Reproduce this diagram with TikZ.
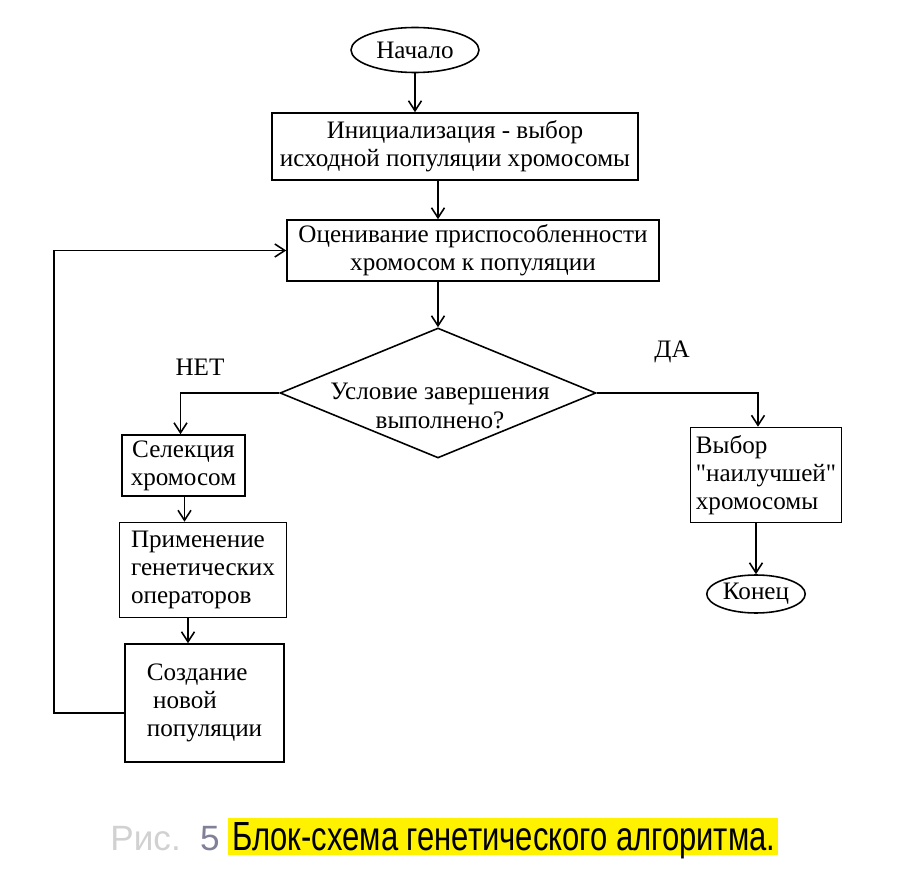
\documentclass[tikz,border=0pt]{standalone}
\usepackage{fontspec}
\setmainfont{Liberation Serif}[Ligatures=TeXOff]
\setsansfont{Liberation Sans}
\usetikzlibrary{shapes.geometric,calc,arrows.meta}

\tikzset{
  >={Straight Barb[length=2mm,width=2.6mm]},
  line/.style={line width=0.9pt},
  blockbox/.style={draw, line width=0.9pt, inner sep=2pt, align=center},
  term/.style={ellipse, draw, line width=0.9pt, inner sep=1pt},
  cond/.style={diamond, draw, line width=0.9pt, inner sep=0pt},
}

\begin{document}
\begin{tikzpicture}[x=0.02cm,y=-0.02cm,font=\fontsize{14.3}{16}\selectfont]
  \useasboundingbox (0,0) rectangle (920,878);

  % blocks
  \node[term, minimum width=2.56cm, minimum height=0.9cm] (start) at (415,50) {Начало};
  \node[blockbox, minimum width=7.32cm, minimum height=1.34cm] (init) at (455,146.5)
       {Инициализация - выбор\\исходной популяции хромосомы};
  \node[blockbox, minimum width=7.44cm, minimum height=1.22cm] (eval) at (473,250.5)
       {Оценивание приспособленности\\хромосом к популяции};
  \node[cond, minimum width=6.32cm, minimum height=2.6cm] (dec) at (438,393) {};
  \node[align=center] (dectext) at (440,406) {Условие завершения\\выполнено?};

  \node (no) at (200,367) {НЕТ};
  \node (yes) at (672,352) {ДА};

  \node[blockbox, minimum width=2.46cm, minimum height=1.22cm] (sel) at (183.5,465.5)
       {Селекция\\хромосом};
  \node[blockbox, align=left, minimum width=3.34cm, minimum height=1.9cm] (appl) at (203,570)
       {Применение\\генетических\\операторов};
  \node[blockbox, align=left, minimum width=3.18cm, minimum height=2.36cm] (newpop) at (204.5,703)
       {Создание\\\ новой\\популяции};

  \node[blockbox, align=left, minimum width=3.02cm, minimum height=1.9cm] (best) at (766,475)
       {Выбор\\"наилучшей"\\хромосомы};
  \node[term, minimum width=1.88cm, minimum height=0.76cm] (stop) at (756,594) {Конец};

  % connectors
  \draw[line,->] (start) -- (start |- init.north);
  \draw[line,->] (dec.north |- init.south) -- (dec.north |- eval.north);
  \draw[line,->] (eval.south -| dec.north) -- (dec.north);
  \draw[line,->] (dec.west) -| ($(sel.north)+(-3,0)$);
  \draw[line,->] ($(sel.south)+(1,0)$) -- ($(sel.south |- appl.north)+(1,0)$);
  \draw[line,->] ($(appl.south)+(-15,0)$) -- ($(appl.south |- newpop.north)+(-15,0)$);
  \draw[line,->] ($(newpop.west)+(0,10)$) -- ++(-70,0) |- (eval.west);
  \draw[line,->] (dec.east) -| ($(best.north)+(-8,0)$);
  \draw[line,->] (best.south -| stop.north) -- (stop.north);

  % caption
  \fill[yellow] (228,818) rectangle (778,855);
  \node[anchor=base west, inner sep=0pt] (cap) at (232,850)
       {\resizebox{10.86cm}{0.56cm}{\sffamily Блок-схема генетического алгоритма.}};
  \node[anchor=base west, inner sep=0pt, font=\sffamily\fontsize{20}{22}\selectfont] (fig) at (110,850)
       {\textcolor{black!18}{Рис.}\hspace{0.55em}\textcolor{blue!20!black!50}{5}};
\end{tikzpicture}
\end{document}
